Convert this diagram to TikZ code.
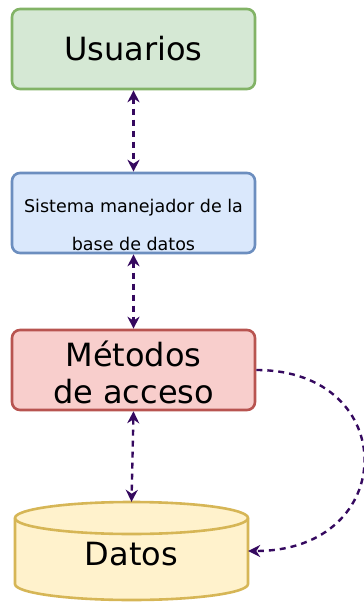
\documentclass[tikz,border=0pt]{standalone}
\usepackage{fontspec}
\setmainfont{DejaVu Sans}
\usetikzlibrary{arrows.meta}

\definecolor{verdeF}{HTML}{D5E8D4}
\definecolor{verdeB}{HTML}{82B366}
\definecolor{azulF}{HTML}{DAE8FC}
\definecolor{azulB}{HTML}{6C8EBF}
\definecolor{rojoF}{HTML}{F8CECC}
\definecolor{rojoB}{HTML}{B85450}
\definecolor{amarF}{HTML}{FFF2CC}
\definecolor{amarB}{HTML}{D6B656}
\definecolor{morado}{HTML}{35095F}

\begin{document}
\begin{tikzpicture}[x=1pt,y=1pt,
  caja/.style={draw, line width=2.6pt, rounded corners=8pt, minimum width=243pt,
    minimum height=80pt, inner sep=0pt, align=center},
  grande/.style={font=\fontsize{32}{37}\selectfont},
  flecha/.style={morado, line width=2.4pt, dash pattern=on 6pt off 5pt,
    -{Stealth[length=12pt,width=12pt]}},
  flechas/.style={flecha, {Stealth[length=12pt,width=12pt]}-{Stealth[length=12pt,width=12pt]}}]
        \useasboundingbox (0,0) rectangle (364,-605);
        \node[caja, grande, fill=verdeF, draw=verdeB] (usuarios) at (133.5,-49) {Usuarios};
        \node[caja, fill=azulF, draw=azulB, font=\fontsize{17.5}{38}\selectfont, text height=75pt] (sistema) at (133.5,-213)
        {Sistema manejador de la\\base de datos};
        \node[caja, grande, fill=rojoF, draw=rojoB, text height=67pt] (metodos) at (133.5,-370) {Métodos\\de acceso};
        % cilindro de datos
        \draw[line width=2.6pt, draw=amarB, fill=amarF] (15,-518) -- (15,-584)
        arc[start angle=180, end angle=360, x radius=116.5, y radius=16] -- (248,-518)
        arc[start angle=0, end angle=180, x radius=116.5, y radius=16] -- cycle;
        \draw[line width=2.6pt, draw=amarB] (15,-518)
        arc[start angle=180, end angle=360, x radius=116.5, y radius=16];
        \node[grande, minimum width=233pt, minimum height=98pt, inner sep=0pt, text height=29pt] (datos) at (131.5,-551) {Datos};
        \draw[flechas] (usuarios.south) -- (sistema.north);
        \draw[flechas] (sistema.south) -- (metodos.north);
        \draw[flechas] (metodos.south) -- (datos.north);
        \draw[flecha] (metodos.east) .. controls +(145,0) and +(152,0) .. (datos.east);
\end{tikzpicture}
\end{document}
